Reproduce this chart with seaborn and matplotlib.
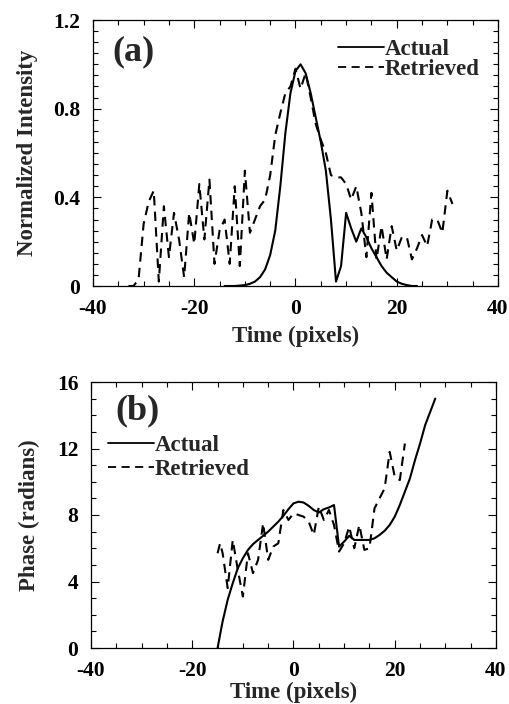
import numpy as np
import pandas as pd
import matplotlib
matplotlib.use("Agg")
import matplotlib.pyplot as plt
from matplotlib.ticker import MultipleLocator
import seaborn as sns

# ---------------- data: panel (a) ----------------
a_actual_x = [-14, -12, -10, -9, -8, -7, -6, -5, -4, -3, -2, -1, 0, 1, 2, 3, 4, 5, 6, 7,
              8, 9, 10, 11, 12, 13, 14, 15, 16, 17, 18, 19, 20, 21, 22, 23, 24]
a_actual_y = [0.0, 0.0, 0.004, 0.01, 0.02, 0.04, 0.075, 0.14, 0.25, 0.45, 0.69, 0.87, 0.97, 1.0,
              0.96, 0.87, 0.76, 0.65, 0.52, 0.30, 0.02, 0.09, 0.33, 0.26, 0.20, 0.26, 0.22, 0.17,
              0.13, 0.09, 0.06, 0.04, 0.02, 0.01, 0.004, 0.0, 0.0]

a_retr_x = list(range(-33, 32))
a_retr_y = [0.0, 0.0, 0.03, 0.28, 0.38, 0.43, 0.02, 0.36, 0.13, 0.33, 0.21, 0.04, 0.33, 0.19,
            0.46, 0.21, 0.48, 0.10, 0.25, 0.30, 0.10, 0.45, 0.09, 0.52, 0.24, 0.30, 0.36, 0.39,
            0.50, 0.68, 0.78, 0.87, 0.90, 0.98, 0.89, 0.96, 0.85, 0.73, 0.66, 0.60, 0.50, 0.49,
            0.49, 0.46, 0.39, 0.45, 0.33, 0.13, 0.42, 0.12, 0.27, 0.12, 0.27, 0.16, 0.22, 0.22,
            0.12, 0.17, 0.23, 0.18, 0.30, 0.30, 0.24, 0.43, 0.37]

# ---------------- data: panel (b) ----------------
b_actual_x = [-15, -14, -13, -12, -11, -10, -9, -8, -7, -6, -5, -4, -3, -2, -1, 0, 1, 2, 3, 4,
              5, 6, 7, 8, 9, 10, 11, 12, 13, 14, 15, 16, 17, 18, 19, 20, 21, 22, 23, 24, 25,
              26, 27, 28]
b_actual_y = [0.0, 1.6, 2.9, 3.9, 4.8, 5.4, 5.9, 6.25, 6.5, 6.75, 7.0, 7.3, 7.6, 7.95, 8.35,
              8.7, 8.8, 8.75, 8.55, 8.3, 8.15, 8.35, 8.45, 8.6, 6.1, 6.4, 6.75, 6.5, 6.5, 6.5,
              6.5, 6.6, 6.8, 7.05, 7.4, 7.9, 8.6, 9.4, 10.2, 11.3, 12.3, 13.4, 14.2, 15.0]

b_retr_x = [-15, -14.5, -14, -13, -12, -11, -10, -9, -8, -7, -6, -5, -4, -3, -2, -1, 0, 1, 2,
            3, 4, 5, 6, 7, 8, 9, 10, 11, 12, 13, 14, 15, 16, 17, 18, 19, 20, 21, 22]
b_retr_y = [5.7, 6.3, 5.7, 3.6, 6.5, 4.7, 3.1, 5.7, 4.5, 5.3, 7.5, 5.3, 6.1, 6.3, 8.3, 7.7,
            8.1, 8.0, 7.9, 7.6, 6.8, 8.5, 7.7, 8.3, 7.4, 5.8, 6.3, 7.3, 6.0, 7.4, 5.9, 6.0,
            8.4, 9.0, 9.6, 11.8, 10.3, 10.1, 12.3]

labels = ["Actual", "Retrieved"]

# ---------------- style ----------------
sns.set_style("ticks")
plt.rcParams["font.family"] = ["Liberation Serif", "DejaVu Serif"]
plt.rcParams["font.weight"] = "bold"
plt.rcParams["axes.labelweight"] = "bold"

W, H = 510, 704
fig = plt.figure(figsize=(W / 100, H / 100), dpi=100)


def px_axes(left, top, right, bottom):
    return fig.add_axes([left / W, 1 - bottom / H, (right - left) / W, (bottom - top) / H])


ax_a = px_axes(93, 20, 498, 286)
ax_b = px_axes(91, 382, 496, 648)

dash = (0, (4.5, 3))
lw = 1.5

df_a1 = pd.DataFrame({"x": a_actual_x, "y": a_actual_y})
df_a2 = pd.DataFrame({"x": a_retr_x, "y": a_retr_y})
sns.lineplot(data=df_a1, x="x", y="y", ax=ax_a, color="black", lw=lw, label=labels[0])
sns.lineplot(data=df_a2, x="x", y="y", ax=ax_a, color="black", lw=lw, linestyle=dash,
             label=labels[1])

df_b1 = pd.DataFrame({"x": b_actual_x, "y": b_actual_y})
df_b2 = pd.DataFrame({"x": b_retr_x, "y": b_retr_y})
sns.lineplot(data=df_b1, x="x", y="y", ax=ax_b, color="black", lw=lw, label=labels[0],
             sort=False)
sns.lineplot(data=df_b2, x="x", y="y", ax=ax_b, color="black", lw=lw, linestyle=dash,
             label=labels[1], sort=False)

tick_fs = 15.5
label_fs = 16.5

for ax in (ax_a, ax_b):
    ax.set_xlim(-40, 40)
    ax.xaxis.set_major_locator(MultipleLocator(20))
    ax.xaxis.set_minor_locator(MultipleLocator(5))
    ax.tick_params(which="both", direction="in", top=True, right=True, colors="black")
    ax.tick_params(which="major", length=6, width=0.8)
    ax.tick_params(which="minor", length=3.5, width=0.8)
    ax.tick_params(axis="x", which="both", pad=9, labelsize=tick_fs)
    ax.tick_params(axis="y", which="both", pad=9, labelsize=tick_fs)
    for s in ax.spines.values():
        s.set_linewidth(0.9)
        s.set_color("black")

ax_a.set_ylim(0, 1.2)
ax_a.yaxis.set_minor_locator(MultipleLocator(0.05))
ax_a.set_yticks([0, 0.4, 0.8, 1.2])
ax_a.set_yticklabels(["0", "0.4", "0.8", "1.2"], fontweight="bold")
ax_a.set_xticks([-40, -20, 0, 20, 40])
ax_a.set_xticklabels(["-40", "-20", "0", "20", "40"], fontweight="bold")
ax_a.set_ylabel("Normalized Intensity", fontsize=label_fs, fontweight="bold", labelpad=11)
ax_a.set_xlabel("Time (pixels)", fontsize=label_fs, fontweight="bold", labelpad=5)

ax_b.set_ylim(0, 16)
ax_b.yaxis.set_minor_locator(MultipleLocator(1))
ax_b.set_yticks([0, 4, 8, 12, 16])
ax_b.set_yticklabels(["0", "4", "8", "12", "16"], fontweight="bold")
ax_b.set_xticks([-40, -20, 0, 20, 40])
ax_b.set_xticklabels(["-40", "-20", "0", "20", "40"], fontweight="bold")
ax_b.set_ylabel("Phase (radians)", fontsize=label_fs, fontweight="bold", labelpad=12)
ax_b.set_xlabel("Time (pixels)", fontsize=label_fs, fontweight="bold", labelpad=1)

ax_a.text(0.10, 0.88, "(a)", transform=ax_a.transAxes, fontsize=26, fontweight="bold",
          ha="center", va="center")
ax_b.text(0.114, 0.89, "(b)", transform=ax_b.transAxes, fontsize=26, fontweight="bold",
          ha="center", va="center")

leg_a = ax_a.legend(loc="upper right", bbox_to_anchor=(0.955, 0.93), frameon=False,
                    fontsize=label_fs, handlelength=2.0, handletextpad=0.05,
                    labelspacing=-0.05, borderaxespad=0, borderpad=0)
leg_b = ax_b.legend(loc="upper left", bbox_to_anchor=(0.042, 0.80), frameon=False,
                    fontsize=label_fs, handlelength=2.0, handletextpad=0.05,
                    labelspacing=0.12, borderaxespad=0, borderpad=0)
for leg in (leg_a, leg_b):
    for t in leg.get_texts():
        t.set_fontweight("bold")
    for l in leg.get_lines():
        l.set_linewidth(1.3)

fig.savefig("out.png", dpi=100, facecolor="white")
